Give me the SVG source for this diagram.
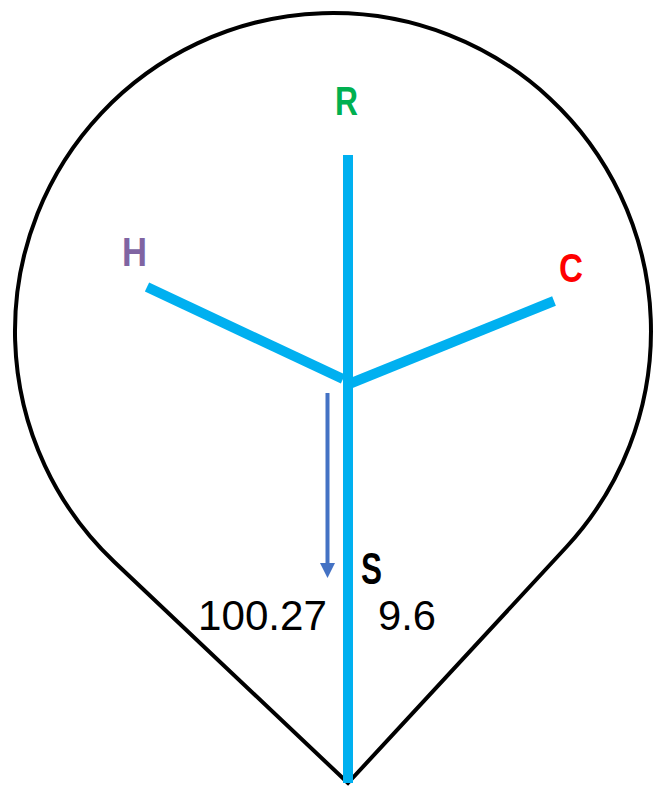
<svg xmlns="http://www.w3.org/2000/svg" width="656" height="786" viewBox="0 0 656 786">
<style>
.lbl{font-family:"Liberation Sans",Arial,sans-serif;font-weight:bold;font-size:41px}
.num{font-family:"Liberation Sans",Arial,sans-serif;font-size:42px;fill:#000}
.blue{stroke:#00B0F0;stroke-width:10;fill:none}
</style>
<rect width="656" height="786" fill="#fff"/>
<g id="outline">
<path d="M348,783 L114.4,562 A318,318 0 1 1 566.4,547 Z" fill="none" stroke="#000" stroke-width="4" stroke-linejoin="miter"/>
</g>
<g id="connectors">
<line class="blue" x1="348" y1="155" x2="348" y2="783"/>
<line class="blue" x1="147" y1="287" x2="343" y2="379"/>
<line class="blue" x1="349" y1="384" x2="554" y2="301"/>
<line x1="327.5" y1="393" x2="327.5" y2="565" stroke="#4472C4" stroke-width="4"/>
<polygon points="320,563 335,563 327.5,578" fill="#4472C4"/>
</g>
<g id="node-R"><text class="lbl" x="335" y="115" fill="#00B050" textLength="23" lengthAdjust="spacingAndGlyphs">R</text></g>
<g id="node-H"><text class="lbl" x="122" y="266" fill="#8064A2" textLength="25" lengthAdjust="spacingAndGlyphs">H</text></g>
<g id="node-C"><text class="lbl" x="559" y="282" fill="#FF0000" textLength="24" lengthAdjust="spacingAndGlyphs">C</text></g>
<g id="node-S"><text class="lbl" x="361" y="584" fill="#000" style="font-size:44px" textLength="21" lengthAdjust="spacingAndGlyphs">S</text></g>
<g id="label-left"><text class="num" x="198" y="630" textLength="129" lengthAdjust="spacingAndGlyphs">100.27</text></g>
<g id="label-right"><text class="num" x="378" y="630" textLength="58" lengthAdjust="spacingAndGlyphs">9.6</text></g>
</svg>
